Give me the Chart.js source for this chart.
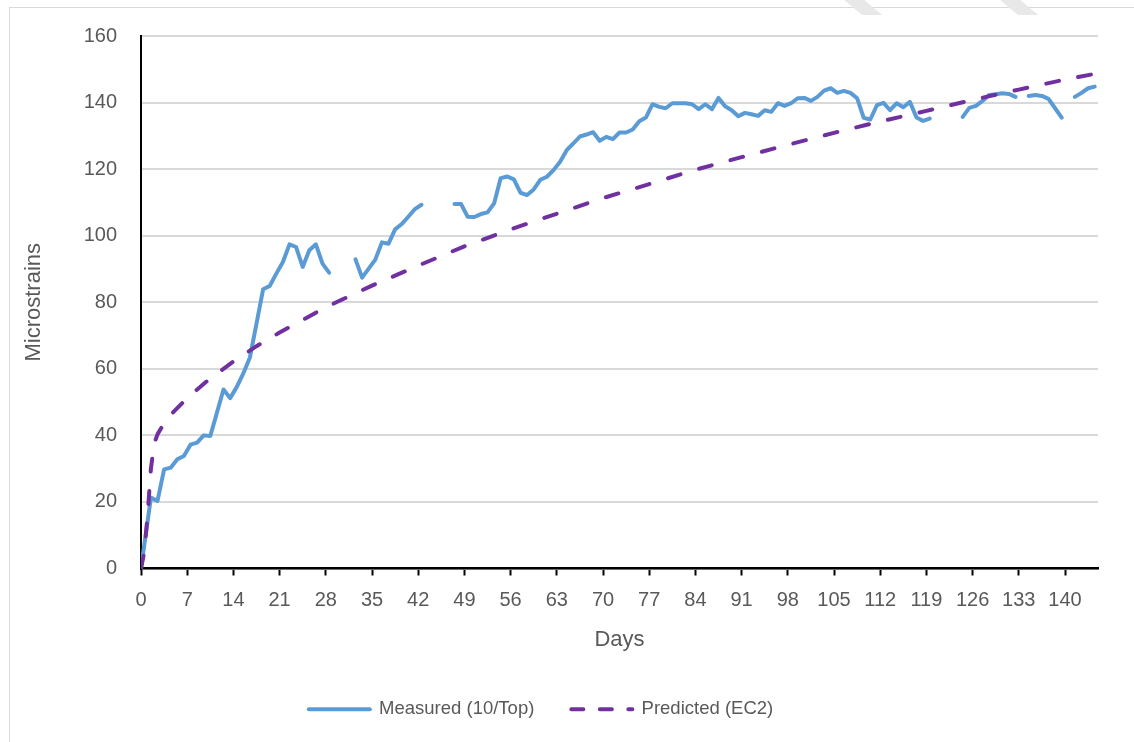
<!DOCTYPE html>
<html>
<head>
<meta charset="utf-8">
<title>Measured vs predicted strain</title>
<script src="https://cdn.jsdelivr.net/npm/chart.js@4.4.1/dist/chart.umd.min.js"></script>
<style>
  html, body { margin: 0; padding: 0; background: #fff; }
  #wrap { position: relative; width: 1134px; height: 742px; overflow: hidden; }
  #frame { position: absolute; left: 9px; top: 7px; width: 1200px; height: 800px; border: 1px solid #d9d9d9; }
  .stripe { position: absolute; top: -2px; width: 20px; height: 17px; background: #e8e8e8; transform: skewX(50deg); }
  canvas { position: absolute; left: 0; top: 0; }
</style>
</head>
<body>
<div id="wrap">
  <div id="frame"></div>
  <div class="stripe" style="left:852px"></div>
  <div class="stripe" style="left:1008px"></div>
  <canvas id="chart" width="1134" height="742"></canvas>
</div>
<script>
// measured gauge readings (null = no reading that day)
const measuredDays = [0, 1.5, 2.5, 3.5, 4.5, 5.5, 6.5, 7.5, 8.5, 9.5, 10.5, 11.5, 12.5, 13.5, 14.5,
  15.5, 16.5, 17.5, 18.5, 19.5, 20.5, 21.5, 22.5, 23.5, 24.5, 25.5, 26.5, 27.5, 28.5, 29.5,
  30.5, 31.5, 32.5, 33.5, 34.5, 35.5, 36.5, 37.5, 38.5, 39.5, 40.5, 41.5, 42.5, 43.5, 44.5,
  45.5, 46.5, 47.5, 48.5, 49.5, 50.5, 51.5, 52.5, 53.5, 54.5, 55.5, 56.5, 57.5, 58.5, 59.5,
  60.5, 61.5, 62.5, 63.5, 64.5, 65.5, 66.5, 67.5, 68.5, 69.5, 70.5, 71.5, 72.5, 73.5, 74.5,
  75.5, 76.5, 77.5, 78.5, 79.5, 80.5, 81.5, 82.5, 83.5, 84.5, 85.5, 86.5, 87.5, 88.5, 89.5,
  90.5, 91.5, 92.5, 93.5, 94.5, 95.5, 96.5, 97.5, 98.5, 99.5, 100.5, 101.5, 102.5, 103.5, 104.5,
  105.5, 106.5, 107.5, 108.5, 109.5, 110.5, 111.5, 112.5, 113.5, 114.5, 115.5, 116.5, 117.5, 118.5, 119.5,
  120.5, 121.5, 122.5, 123.5, 124.5, 125.5, 126.5, 127.5, 128.5, 129.5, 130.5, 131.5, 132.5, 133.5, 134.5,
  135.5, 136.5, 137.5, 138.5, 139.5, 140.5, 141.5, 142.5, 143.5, 144.5];
const measured = [0, 21.3, 20.3, 29.8, 30.3, 32.8, 33.8, 37.2, 37.8, 40.0, 39.8, 46.8, 53.8, 51.2, 54.5,
  58.6, 63.4, 73.6, 83.9, 84.9, 88.6, 92.1, 97.4, 96.6, 90.6, 95.6, 97.4, 91.6, 88.9, null,
  null, null, 92.9, 87.4, 90.1, 92.8, 98.0, 97.6, 101.9, 103.5, 105.7, 108.0, 109.3, null, null,
  null, null, 109.5, 109.5, 105.7, 105.6, 106.5, 107.0, 109.7, 117.3, 117.8, 116.9, 112.9, 112.2, 113.9,
  116.8, 117.7, 119.7, 122.2, 125.7, 127.7, 129.8, 130.4, 131.1, 128.5, 129.7, 129.0, 131.0, 131.0, 131.9,
  134.4, 135.5, 139.5, 138.7, 138.3, 139.8, 139.8, 139.8, 139.5, 138.0, 139.5, 138.0, 141.4, 138.9, 137.7,
  135.9, 136.9, 136.5, 136.0, 137.7, 137.2, 139.8, 139.0, 139.8, 141.3, 141.4, 140.5, 141.7, 143.6, 144.3,
  142.9, 143.5, 142.9, 141.3, 135.4, 134.9, 139.2, 139.9, 137.7, 139.8, 138.6, 140.2, 135.5, 134.5, 135.2,
  null, null, null, null, 135.7, 138.4, 139.0, 140.5, 142.3, 142.5, 142.8, 142.6, 141.7, null, 142.0,
  142.3, 142.0, 141.1, 138.3, 135.5, null, 141.7, 142.9, 144.3, 144.8];

// EC2 prediction
const predictedDays = [0, 0.5, 1, 1.5, 2, 2.5, 3, 4, 5, 7, 10, 14, 17.5, 21, 24.5, 28, 35, 42, 49,
  56, 63, 70, 77, 84, 91, 98, 105, 112, 119, 126, 133, 140, 145];
const predicted = [0, 5, 16, 30, 37.5, 40.3, 42, 45, 47.2, 51.2, 56.3, 62.2, 66.8, 70.9, 74.7, 78.5, 85, 91, 96.8,
  101.9, 106.6, 111.3, 115.5, 119.8, 123.6, 127.3, 130.9, 134.3, 137.5, 140.8, 143.9, 146.9, 148.8];

const dayTicks = [0, 7, 14, 21, 28, 35, 42, 49, 56, 63, 70, 77, 84, 91, 98, 105, 112, 119, 126, 133, 140];
const strainTicks = [0, 20, 40, 60, 80, 100, 120, 140, 160];

const FONT = '"Liberation Sans", Arial, sans-serif';
const GREY = '#595959';

// Excel put the legend a bit left of the plot centre
const legendShift = {
  id: 'legendShift',
  afterLayout(chart) {
    const lg = chart.legend;
    lg.left = 0;
    lg.right = 1082;
    lg.top = 663;
  }
};

new Chart(document.getElementById('chart'), {
  type: 'line',
  data: {
    datasets: [{
      label: 'Measured (10/Top)',
      data: measuredDays.map((d, i) => ({ x: d, y: measured[i] })),
      borderColor: '#5B9BD5',
      backgroundColor: '#5B9BD5',
      borderWidth: 4,
      borderCapStyle: 'round',
      borderJoinStyle: 'round',
      pointRadius: 0,
      pointHoverRadius: 0,
      pointStyle: 'line',
      order: 2
    }, {
      label: 'Predicted (EC2)',
      data: predictedDays.map((d, i) => ({ x: d, y: predicted[i] })),
      borderColor: '#7030A0',
      backgroundColor: '#7030A0',
      borderWidth: 4,
      borderDash: [13, 19.5],
      borderCapStyle: 'round',
      borderJoinStyle: 'round',
      pointRadius: 0,
      pointHoverRadius: 0,
      pointStyle: 'line',
      order: 1
    }]
  },
  options: {
    responsive: false,
    animation: false,
    layout: { padding: { left: 0, right: 36, top: 36, bottom: 13 } },
    plugins: {
      tooltip: { enabled: false },
      legend: {
        position: 'bottom',
        labels: {
          usePointStyle: true,
          pointStyleWidth: 61,
          padding: 37,
          color: GREY,
          font: { family: FONT, size: 18.5 },
          sort: (a, b) => a.datasetIndex - b.datasetIndex,
          generateLabels(chart) {
            const items = Chart.defaults.plugins.legend.labels.generateLabels(chart);
            items.forEach(it => {
              const ds = chart.data.datasets[it.datasetIndex];
              it.lineWidth = 4;
              it.lineCap = 'round';
              it.strokeStyle = ds.borderColor;
              it.lineDash = ds.borderDash ? [12, 16.5] : [];
            });
            return items;
          }
        }
      }
    },
    scales: {
      x: {
        type: 'linear',
        min: 0,
        max: 145,
        afterBuildTicks: s => { s.ticks = dayTicks.map(v => ({ value: v })); },
        afterFit: s => { s.height = 95; },
        border: { display: true, color: '#000', width: 2.5 },
        grid: { display: true, drawOnChartArea: false, drawTicks: true, tickLength: 7, tickColor: '#000', tickWidth: 2 },
        ticks: { autoSkip: false, maxRotation: 0, padding: 13, color: GREY, font: { family: FONT, size: 20 } },
        title: { display: true, text: 'Days', color: GREY, font: { family: FONT, size: 22 }, padding: { top: 0, bottom: 10 } }
      },
      y: {
        min: 0,
        max: 160,
        afterBuildTicks: s => { s.ticks = strainTicks.map(v => ({ value: v })); },
        afterFit: s => { s.width = 141; },
        border: { display: true, color: '#000', width: 2 },
        grid: { color: '#d9d9d9', lineWidth: 2, drawTicks: false },
        ticks: { padding: 24, color: GREY, font: { family: FONT, size: 20 } },
        title: { display: true, text: 'Microstrains', color: GREY, font: { family: FONT, size: 22 }, padding: { top: 21, bottom: 0 } }
      }
    }
  },
  plugins: [legendShift]
});
</script>
</body>
</html>
